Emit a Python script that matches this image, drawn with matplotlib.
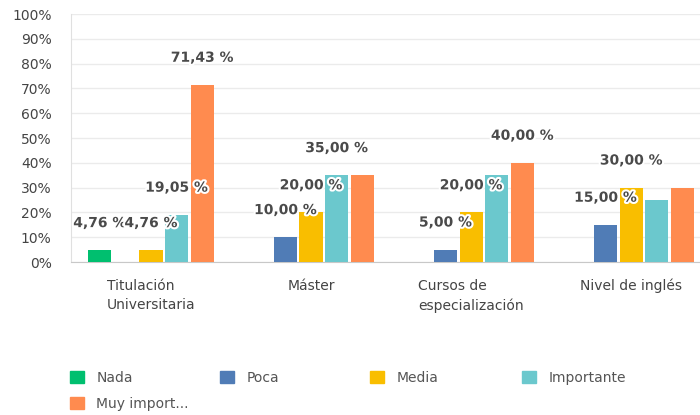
import matplotlib.pyplot as plt
import matplotlib.patheffects as pe
from matplotlib.patches import Rectangle
import numpy as np

# Categories and series (values in %)
categories = ["Titulación\nUniversitaria", "Máster", "Cursos de\nespecialización", "Nivel de inglés"]
series_names = ["Nada", "Poca", "Media", "Importante", "Muy import..."]
nada = [4.76, 0, 0, 0]
poca = [0, 10.00, 5.00, 15.00]
media = [4.76, 20.00, 20.00, 30.00]
importante = [19.05, 35.00, 35.00, 25.00]
muy_importante = [71.43, 35.00, 40.00, 30.00]
# which value labels the original chart shows (others hidden by overlap)
shown_labels = [
    [True, False, False, False],
    [False, True, True, True],
    [True, True, True, True],
    [True, True, False, False],
    [True, False, True, False],
]

colors = ["#00BF6F", "#507CB6", "#F9BE00", "#6BC8CD", "#FF8B4F"]
all_series = [nada, poca, media, importante, muy_importante]

fig = plt.figure(figsize=(7, 4.15), dpi=100)
ax = fig.add_axes([71 / 700, 1 - 262 / 415, 629 / 700, 248 / 415])

x = np.arange(len(categories))
step = 0.16
width = 0.145
for i, (vals, col) in enumerate(zip(all_series, colors)):
    pos = x + (i - 2) * step
    ax.bar(pos, vals, width=width, color=col, zorder=3)
    for p, v, show in zip(pos, vals, shown_labels[i]):
        if show and v > 0:
            ax.annotate(f"{v:.2f} %".replace(".", ","), (p, v), xytext=(0, 19.5),
                        textcoords="offset points", ha="center", va="center",
                        fontsize=10, fontweight="bold", color="#4a4a4a", zorder=5,
                        path_effects=[pe.withStroke(linewidth=3, foreground="white")])

ax.set_xlim(-0.5, 3.43)
ax.set_ylim(0, 100)
ax.set_yticks(range(0, 101, 10))
ax.set_yticklabels([f"{t}%" for t in range(0, 101, 10)], fontsize=10, color="#444444")
ax.set_xticks(x)
ax.set_xticklabels(categories, fontsize=10, color="#444444", multialignment="left",
                   linespacing=1.5)
ax.tick_params(axis="y", length=0, pad=14)
ax.tick_params(axis="x", length=0, pad=12)
ax.grid(axis="y", color="#ebebeb", linewidth=1, zorder=0)
for s in ["top", "right"]:
    ax.spines[s].set_visible(False)
ax.spines["left"].set_color("#e0e0e0")
ax.spines["bottom"].set_color("#c8c8c8")

# legend entries, placed like the original grid
legend_pos = [(70, 378), (220, 378), (370, 378), (522, 378), (70, 404)]
for name, col, (lx, ly) in zip(series_names, colors, legend_pos):
    h = Rectangle((0, 0), 1, 1, facecolor=col, edgecolor=col, joinstyle="round")
    leg = fig.legend([h], [name], loc="center left", bbox_to_anchor=(lx / 700, 1 - ly / 415),
                     frameon=False, fontsize=10, handlelength=1.0, handleheight=1.0,
                     handletextpad=0.9, borderpad=0, borderaxespad=0)
    for t in leg.get_texts():
        t.set_color("#555555")

fig.savefig("out.png", dpi=100)
